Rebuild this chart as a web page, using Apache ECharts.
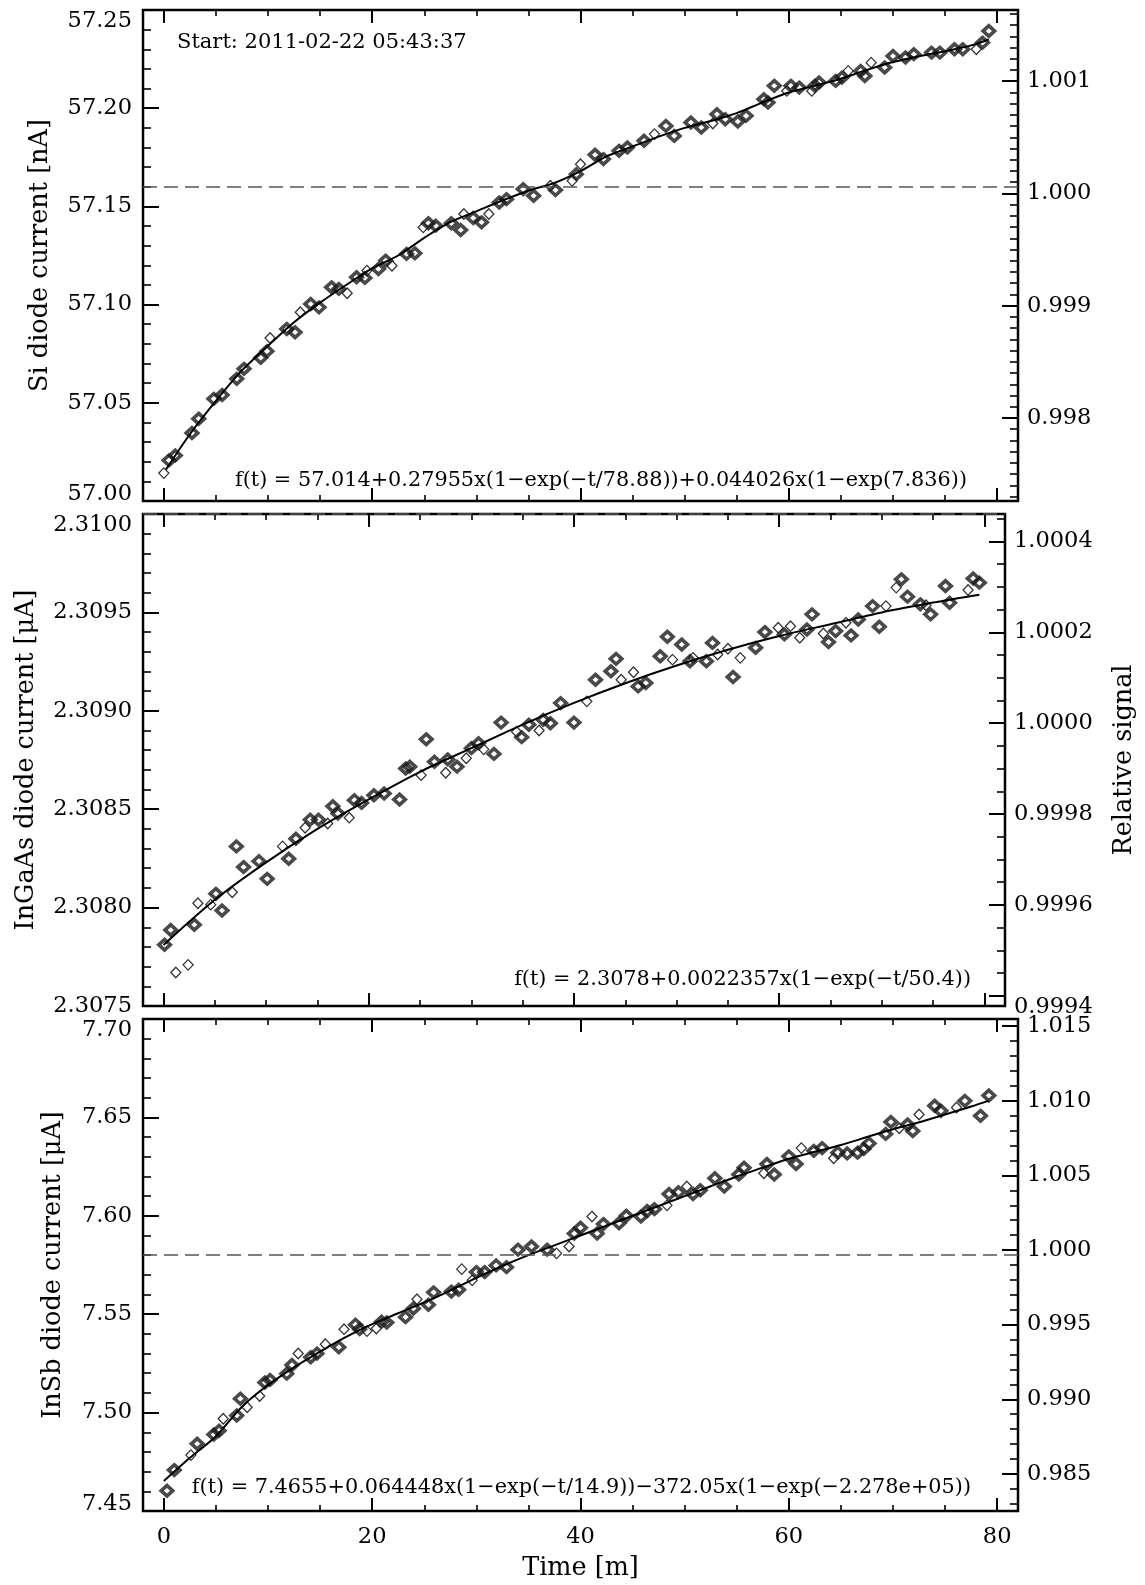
<!DOCTYPE html>
<html><head><meta charset="utf-8">
<script src="https://cdn.jsdelivr.net/npm/echarts@6/dist/echarts.min.js"></script>
<style>html,body{margin:0;padding:0;background:#fff}#c{width:1145px;height:1585px}</style>
</head><body><div id="c"></div>
<script>
// ---------------- DATA ----------------
const xTickValues = [0, 20, 40, 60, 80];
const xMinorValues = [5, 10, 15, 25, 30, 35, 45, 50, 55, 65, 70, 75];

// Panel 1: Si diode
const siTicks = [57.00, 57.05, 57.10, 57.15, 57.20, 57.25];
const siRelTicks = [0.998, 0.999, 1.000, 1.001];
const siRef = 57.1566;
const siBold = [[0.5,57.0207],[1.1,57.0232],[2.7,57.0346],[3.35,57.0419],[4.8,57.052],[5.6,57.054],[7.0,57.0622],[7.7,57.0673],[9.3,57.0729],[9.9,57.0763],[11.8,57.0876],[12.6,57.0859],[14.1,57.1003],[14.9,57.0986],[16.1,57.1088],[16.8,57.108],[18.5,57.1139],[19.3,57.1136],[20.6,57.1181],[21.3,57.1224],[23.3,57.1258],[24.1,57.1261],[25.4,57.1414],[26.1,57.1402],[27.6,57.1414],[28.5,57.138],[29.7,57.1441],[30.5,57.1419],[32.2,57.152],[32.9,57.1537],[34.5,57.1588],[35.5,57.1554],[37.6,57.1583],[39.6,57.1664],[41.4,57.1763],[42.2,57.1741],[43.7,57.1783],[44.5,57.18],[46.1,57.1834],[48.2,57.191],[49.0,57.1859],[50.6,57.1927],[51.6,57.1902],[53.1,57.1969],[53.9,57.1944],[55.1,57.1932],[55.9,57.1961],[57.6,57.2046],[58.0,57.2029],[58.6,57.2114],[60.2,57.2114],[61.0,57.2105],[62.5,57.2114],[62.9,57.2131],[64.5,57.2139],[65.1,57.2156],[66.9,57.219],[67.3,57.2164],[69.2,57.2207],[70.0,57.2266],[71.2,57.2258],[72.0,57.2275],[73.7,57.2283],[74.5,57.2283],[75.9,57.23],[76.7,57.23],[78.6,57.2334],[79.2,57.2393]];
const siOpen = [[0,57.0142],[10.2,57.083],[13.1,57.0961],[17.6,57.1058],[19.5,57.1173],[21.9,57.1198],[24.9,57.1393],[28.8,57.1461],[31.2,57.1461],[37.1,57.1605],[39.2,57.163],[40.0,57.1715],[47.1,57.1868],[52.7,57.1922],[59.8,57.2088],[62.2,57.2088],[65.7,57.219],[67.9,57.2232],[78.0,57.23]];
const siFit = [[0.2,57.016],[2.5,57.034],[5,57.051],[7.5,57.0665],[10,57.079],[12.5,57.091],[15,57.101],[17.5,57.11],[20,57.1185],[22.5,57.125],[25,57.134],[27.5,57.142],[30,57.1475],[32.5,57.153],[35,57.158],[37.5,57.162],[40,57.168],[42.5,57.1755],[45,57.1805],[47.5,57.1855],[50,57.19],[52.5,57.1935],[55,57.1975],[57.5,57.203],[60,57.208],[62.5,57.2115],[65,57.215],[67.5,57.2195],[70,57.2235],[72.5,57.2265],[75,57.229],[77.5,57.232],[79.2,57.235]];

// Panel 2: InGaAs diode
const ingaasTicks = [2.3075, 2.3080, 2.3085, 2.3090, 2.3095, 2.3100];
const ingaasRelTicks = [0.9994, 0.9996, 0.9998, 1.0000, 1.0002, 1.0004];
const ingaasRef = 2.308937;
const ingaasBold = [[0.1,2.307811],[0.7,2.307886],[3.0,2.307913],[5.1,2.30807],[5.7,2.307985],[7.1,2.308311],[7.8,2.308206],[9.3,2.308236],[10.1,2.308146],[12.2,2.308248],[12.9,2.30835],[14.3,2.308447],[15.1,2.308447],[16.5,2.308515],[17.0,2.308478],[18.6,2.308546],[19.3,2.308532],[20.5,2.308571],[21.5,2.30858],[23.0,2.308549],[23.6,2.308707],[24.0,2.308716],[25.6,2.308855],[26.4,2.308741],[27.7,2.308753],[28.6,2.308716],[30.0,2.30881],[30.7,2.308835],[32.2,2.308781],[32.9,2.30894],[34.9,2.308866],[35.6,2.308929],[37.0,2.308954],[37.7,2.308937],[38.7,2.309039],[40.0,2.30894],[42.1,2.309158],[43.6,2.309201],[44.1,2.309264],[46.25,2.309124],[47.0,2.309141],[48.4,2.309277],[49.1,2.309376],[50.5,2.309337],[51.3,2.309252],[52.9,2.309252],[53.5,2.309345],[55.5,2.309172],[57.7,2.30932],[58.6,2.3094],[60.5,2.309388],[62.7,2.309413],[63.2,2.30949],[64.8,2.309349],[65.5,2.309405],[67.0,2.309383],[67.7,2.309464],[69.1,2.309532],[69.75,2.309427],[71.9,2.309668],[72.5,2.30958],[73.75,2.309541],[74.75,2.30949],[76.2,2.309634],[76.6,2.309549],[78.9,2.309672],[79.5,2.309651]];
const ingaasOpen = [[1.2,2.30767],[2.4,2.307709],[3.35,2.308022],[4.6,2.308015],[6.7,2.308078],[11.6,2.308311],[13.8,2.308406],[16.0,2.308427],[18.1,2.308457],[25.1,2.308673],[27.5,2.308685],[29.5,2.308759],[31.2,2.308804],[34.4,2.308894],[36.6,2.3089],[41.25,2.309048],[44.6,2.309158],[45.8,2.309196],[49.6,2.30926],[51.6,2.309269],[54.0,2.309286],[55.0,2.309315],[56.2,2.309269],[59.9,2.309422],[61.1,2.30943],[62.0,2.309371],[64.3,2.309393],[66.5,2.309447],[70.4,2.309532],[71.4,2.309626],[74.3,2.309536],[78.4,2.309614]];
const ingaasFit = [[0,2.30781],[5,2.30804],[10,2.30823],[15,2.3084],[20,2.30855],[25,2.30869],[30,2.30881],[35,2.30893],[40,2.30904],[45,2.30914],[50,2.30923],[55,2.30931],[60,2.30938],[65,2.30944],[70,2.3095],[75,2.30955],[79.5,2.30959]];

// Panel 3: InSb diode
const insbTicks = [7.45, 7.50, 7.55, 7.60, 7.65, 7.70];
const insbRelTicks = [0.985, 0.990, 0.995, 1.000, 1.005, 1.010, 1.015];
const insbRef = 7.5826;
const insbBold = [[0.3,7.4603],[1.0,7.4708],[3.2,7.4842],[4.8,7.4889],[5.3,7.4908],[7.0,7.4985],[7.35,7.5071],[9.7,7.5153],[10.2,7.5166],[11.8,7.5198],[12.3,7.5242],[14.1,7.5281],[14.7,7.53],[16.8,7.5332],[18.4,7.5447],[18.8,7.5424],[20.9,7.5462],[21.4,7.5458],[23.2,7.5485],[23.96,7.5529],[25.4,7.5548],[25.9,7.5611],[27.6,7.5615],[28.3,7.5624],[30.0,7.5714],[30.8,7.5714],[31.9,7.5748],[32.9,7.5739],[34.0,7.5828],[35.3,7.5844],[36.8,7.5828],[39.4,7.591],[40.0,7.5939],[41.6,7.591],[42.2,7.5958],[43.7,7.5962],[44.4,7.6],[45.8,7.5996],[46.4,7.6025],[47.1,7.6034],[48.5,7.6111],[49.4,7.612],[50.8,7.6111],[51.5,7.613],[52.9,7.6191],[53.8,7.6149],[55.2,7.621],[55.7,7.6244],[57.9,7.6263],[58.6,7.621],[60.0,7.6302],[60.7,7.6263],[62.4,7.633],[63.2,7.6344],[64.7,7.6321],[65.6,7.6317],[66.6,7.6321],[67.2,7.634],[67.7,7.6368],[69.3,7.6416],[69.8,7.6477],[71.4,7.6464],[71.9,7.6431],[74.0,7.6559],[74.6,7.6534],[76.9,7.6584],[78.4,7.6508],[79.2,7.6611]];
const insbOpen = [[2.6,7.4784],[5.7,7.4969],[8.0,7.5027],[9.2,7.5084],[12.9,7.53],[15.5,7.5347],[17.3,7.5424],[19.5,7.5414],[20.4,7.5427],[24.3,7.5576],[28.6,7.5729],[29.6,7.5672],[37.7,7.5809],[38.9,7.5844],[41.1,7.5996],[48.3,7.6053],[50.2,7.6149],[57.6,7.6216],[61.2,7.6344],[64.3,7.6292],[70.6,7.6445],[72.5,7.6515],[76.1,7.655]];
const insbFit = [[0,7.4652],[2.5,7.477],[5,7.488],[7.5,7.503],[10,7.514],[12.5,7.523],[15,7.531],[17.5,7.5385],[20,7.545],[22.5,7.5505],[25,7.556],[27.5,7.562],[30,7.5685],[32.5,7.5745],[35,7.58],[37.5,7.585],[40,7.59],[42.5,7.595],[45,7.6],[47.5,7.605],[50,7.61],[52.5,7.615],[55,7.62],[57.5,7.6245],[60,7.629],[62.5,7.6325],[65,7.636],[67.5,7.64],[70,7.644],[72.5,7.6475],[75,7.6515],[77.5,7.6555],[79.2,7.6585]];

const startText = 'Start: 2011-02-22 05:43:37';
const fitTexts = [
  'f(t) = 57.014+0.27955x(1\u2212exp(\u2212t/78.88))+0.044026x(1\u2212exp(7.836))',
  'f(t) = 2.3078+0.0022357x(1\u2212exp(\u2212t/50.4))',
  'f(t) = 7.4655+0.064448x(1\u2212exp(\u2212t/14.9))\u2212372.05x(1\u2212exp(\u22122.278e+05))'
];

// ---------------- LAYOUT / STYLE ----------------
const FONT = '"DejaVu Serif", serif';
const GL = 143, GW = 875;
const panels = [
  {top:10, height:491, yMin:57.00, yMax:57.25, major:siTicks, minorStep:0.01, dec:2, ref:siRef,
   rMajor:siRelTicks, rMinorStep:0.0001, rDec:3, name:'Si diode current [nA]', nameGap:90,
   minShift:true, rMinAlign:'middle', open:siOpen, bold:siBold, fit:siFit, rName:''},
  {top:514, height:492, yMin:2.3075, yMax:2.3100, major:ingaasTicks, minorStep:0.0001, dec:4, ref:ingaasRef,
   rMajor:ingaasRelTicks, rMinorStep:0.00005, rDec:4, name:'InGaAs diode current [\u03bcA]', nameGap:104,
   minShift:false, rMinAlign:'top', open:ingaasOpen, bold:ingaasBold, fit:ingaasFit, rName:'Relative signal'},
  {top:1019, height:492, yMin:7.45, yMax:7.70, major:insbTicks, minorStep:0.01, dec:2, ref:insbRef,
   rMajor:insbRelTicks, rMinorStep:0.001, rDec:3, name:'InSb diode current [\u03bcA]', nameGap:77,
   minShift:true, rMinAlign:'middle', open:insbOpen, bold:insbBold, fit:insbFit, rName:''}
];

function steps(lo, hi, step) {
  const out = [];
  const n0 = Math.ceil(lo / step - 1e-6), n1 = Math.floor(hi / step + 1e-6);
  for (let k = n0; k <= n1; k++) out.push(+(k * step).toPrecision(12));
  return out;
}

const tickStyle = {color:'#000', width:2};
const minorStyle = {color:'#000', width:1.6};
const labelBase = {fontFamily:FONT, fontSize:22.5, color:'#000'};
const nameStyle = {fontFamily:FONT, fontSize:25.5, color:'#000'};

const grid = [], xAxis = [], yAxis = [], series = [];
panels.forEach((p, g) => {
  grid.push({left:GL, top:p.top, width:GW, height:p.height, show:true, borderColor:'#000', borderWidth:2.5, backgroundColor:'transparent'});
  const xb = {type:'value', gridIndex:g, min:-2, max:82, splitLine:{show:false}, axisLine:{show:false, onZero:false}};
  const isLast = g === panels.length - 1;
  xAxis.push(Object.assign({}, xb, {position:'bottom',
    axisTick:{show:true, inside:true, length:13, lineStyle:tickStyle, customValues:xTickValues},
    axisLabel:Object.assign({show:isLast, customValues:xTickValues, margin:15, formatter:v => String(Math.round(v))}, labelBase),
    name:isLast ? 'Time [m]' : '', nameLocation:'middle', nameGap:44, nameTextStyle:nameStyle}));
  xAxis.push(Object.assign({}, xb, {position:'bottom',
    axisTick:{show:true, inside:true, length:6, lineStyle:minorStyle, customValues:xMinorValues}, axisLabel:{show:false}}));
  xAxis.push(Object.assign({}, xb, {position:'top',
    axisTick:{show:true, inside:true, length:13, lineStyle:tickStyle, customValues:xTickValues}, axisLabel:{show:false}}));
  xAxis.push(Object.assign({}, xb, {position:'top',
    axisTick:{show:true, inside:true, length:6, lineStyle:minorStyle, customValues:xMinorValues}, axisLabel:{show:false}}));

  const yb = {type:'value', gridIndex:g, min:p.yMin, max:p.yMax, splitLine:{show:false}, axisLine:{show:false, onZero:false}};
  yAxis.push(Object.assign({}, yb, {position:'left',
    axisTick:{show:true, inside:true, length:16, lineStyle:tickStyle, customValues:p.major},
    axisLabel:Object.assign({show:true, customValues:p.major, margin:11,
      formatter:v => (p.minShift && Math.abs(v - p.yMin) < 1e-9) ? '{mn|' + v.toFixed(p.dec) + '}' : v.toFixed(p.dec),
      rich:{mn:{padding:[0,0,13,0], fontFamily:FONT, fontSize:22.5, color:'#000'}},
      verticalAlignMaxLabel:'top', verticalAlignMinLabel:'middle'}, labelBase),
    name:p.name, nameLocation:'middle', nameRotate:90, nameGap:p.nameGap, nameTextStyle:nameStyle}));
  yAxis.push(Object.assign({}, yb, {position:'left',
    axisTick:{show:true, inside:true, length:8, lineStyle:minorStyle, customValues:steps(p.yMin, p.yMax, p.minorStep)},
    axisLabel:{show:false}}));
  const rMin = p.yMin / p.ref, rMax = p.yMax / p.ref;
  const rb = {type:'value', gridIndex:g, min:rMin, max:rMax, splitLine:{show:false}, axisLine:{show:false, onZero:false}};
  yAxis.push(Object.assign({}, rb, {position:'right',
    axisTick:{show:true, inside:true, length:16, lineStyle:tickStyle, customValues:p.rMajor},
    axisLabel:Object.assign({show:true, customValues:p.rMajor, margin:9, formatter:v => v.toFixed(p.rDec),
      verticalAlignMinLabel:p.rMinAlign}, labelBase),
    name:p.rName, nameLocation:'middle', nameRotate:90, nameGap:106, nameTextStyle:nameStyle}));
  yAxis.push(Object.assign({}, rb, {position:'right',
    axisTick:{show:true, inside:true, length:8, lineStyle:minorStyle, customValues:steps(rMin, rMax, p.rMinorStep)},
    axisLabel:{show:false}}));

  const xi = 4 * g, yi = 4 * g;
  series.push({type:'scatter', xAxisIndex:xi, yAxisIndex:yi, data:p.open, symbol:'diamond', symbolSize:[10, 10.5],
    itemStyle:{color:'rgba(0,0,0,0)', borderColor:'#000', borderWidth:1.3}, z:2, silent:true});
  series.push({type:'scatter', xAxisIndex:xi, yAxisIndex:yi, data:p.bold, symbol:'diamond', symbolSize:[11.5, 10.5],
    itemStyle:{color:'rgba(0,0,0,0)', borderColor:'#1c1c1c', borderWidth:3.6}, z:3, silent:true});
  series.push({type:'line', xAxisIndex:xi, yAxisIndex:yi, data:p.fit, smooth:0.3, showSymbol:false, symbol:'none',
    lineStyle:{color:'#000', width:2}, z:4, silent:true,
    markLine:{silent:true, symbol:['none','none'], label:{show:false},
      lineStyle:{type:[14, 7], color:'#555', width:1.6}, data:[{yAxis:p.ref}]}});
});

const graphic = [
  {type:'text', x:177, y:43, style:{text:startText, font:'21px ' + FONT, fill:'#000', align:'left', verticalAlign:'middle'}},
  {type:'text', x:967, y:481, style:{text:fitTexts[0], font:'20.8px ' + FONT, fill:'#000', align:'right', verticalAlign:'middle'}},
  {type:'text', x:971, y:980, style:{text:fitTexts[1], font:'20.8px ' + FONT, fill:'#000', align:'right', verticalAlign:'middle'}},
  {type:'text', x:971, y:1488, style:{text:fitTexts[2], font:'20.8px ' + FONT, fill:'#000', align:'right', verticalAlign:'middle'}}
];

const chart = echarts.init(document.getElementById('c'), null, {renderer:'canvas'});
chart.setOption({animation:false, backgroundColor:'#fff', grid, xAxis, yAxis, series, graphic});
</script></body></html>
